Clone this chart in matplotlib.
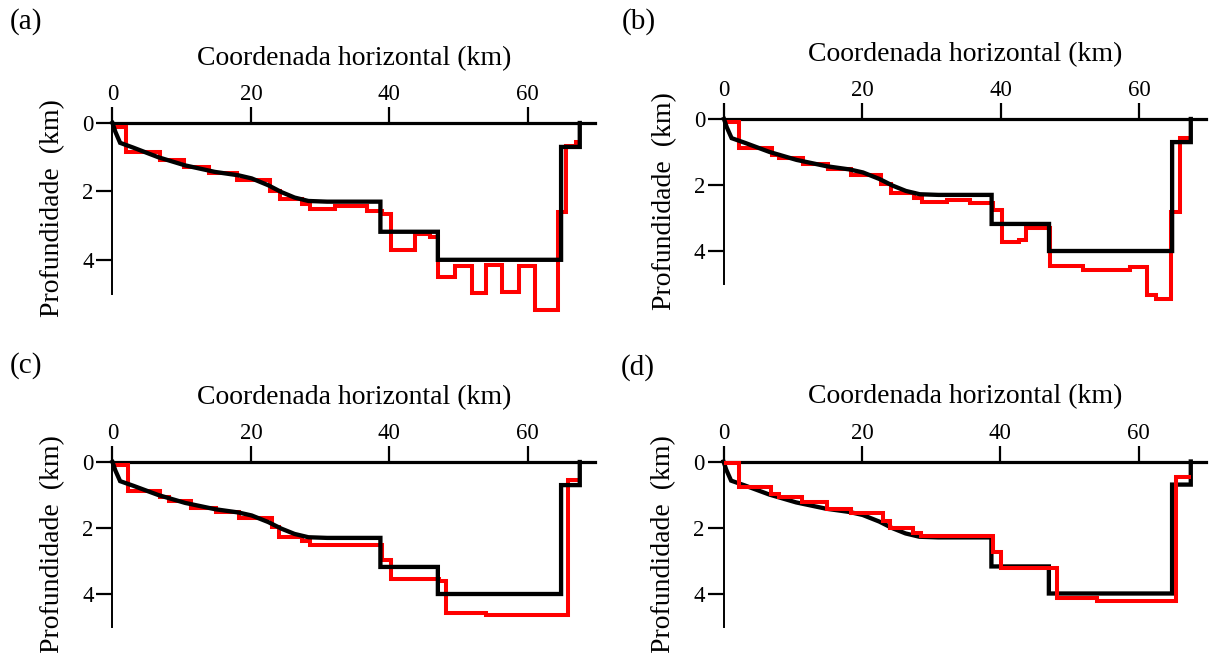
import matplotlib
matplotlib.use('Agg')
import matplotlib.pyplot as plt

plt.rcParams['font.family'] = ['Liberation Serif', 'DejaVu Serif']

# True model (black), common to all panels: horizontal coordinate (km) and depth (km)
true_x = [0, 0.4, 1.1, 3.0, 6.6, 10.5, 14.8, 18.2, 20.1, 22.5, 24.4, 26.3, 28.3, 31.0,
          38.7, 38.7, 47.0, 47.0, 64.8, 64.8, 67.5, 67.5]
true_z = [0, 0.25, 0.58, 0.72, 1.0, 1.24, 1.43, 1.53, 1.62, 1.82, 2.02, 2.18, 2.28, 2.3,
          2.3, 3.18, 3.18, 4.0, 4.0, 0.7, 0.7, 0]

# Estimated models (red): cell edges (km) and depths (km)
a_edges = [0, 2.0, 6.9, 10.3, 13.9, 18.0, 22.7, 24.2, 27.4, 28.6, 32.1, 36.7, 38.9, 40.2,
           43.7, 45.8, 47.0, 49.5, 51.9, 54.0, 56.3, 58.7, 61.1, 64.4, 65.5, 66.9, 67.7]
a_vals = [0.12, 0.84, 1.08, 1.28, 1.47, 1.68, 1.98, 2.22, 2.36, 2.5, 2.43, 2.56, 2.65,
          3.72, 3.26, 3.32, 4.5, 4.18, 4.98, 4.16, 4.95, 4.19, 5.47, 2.6, 0.68, 0.55]

b_edges = [0, 2.2, 6.9, 7.9, 11.4, 15.0, 18.3, 22.7, 24.1, 27.5, 28.7, 32.3, 35.6, 38.9,
           40.2, 42.6, 43.7, 47.1, 51.9, 58.7, 61.2, 62.4, 64.6, 66.0, 67.7]
b_vals = [0.1, 0.88, 1.08, 1.18, 1.35, 1.53, 1.69, 1.96, 2.24, 2.39, 2.53, 2.46, 2.56,
          2.76, 3.73, 3.66, 3.29, 4.45, 4.58, 4.5, 5.33, 5.46, 2.81, 0.59]

c_edges = [0, 2.3, 6.9, 8.1, 11.4, 15.0, 18.3, 23.0, 24.1, 27.4, 28.5, 38.9, 40.2, 47.2,
           48.2, 54.0, 65.8, 67.7]
c_vals = [0.08, 0.89, 1.06, 1.18, 1.38, 1.52, 1.70, 1.97, 2.27, 2.4, 2.5, 2.98, 3.54,
          3.6, 4.58, 4.65, 0.54]

d_edges = [0, 2.3, 6.9, 8.0, 11.4, 15.0, 18.4, 23.0, 24.0, 27.4, 28.6, 38.9, 40.1, 48.2,
           53.9, 65.4, 67.6]
d_vals = [0.06, 0.78, 0.97, 1.07, 1.24, 1.43, 1.55, 1.8, 2.03, 2.17, 2.26, 2.74, 3.22,
          4.15, 4.22, 0.47]

panel_labels = ['(a)', '(b)', '(c)', '(d)']
x_ticks = [0, 20, 40, 60]
y_ticks = [0, 2, 4]
xlabel = 'Coordenada horizontal (km)'
ylabel = 'Profundidade  (km)'

W, H = 1211, 653
fig = plt.figure(figsize=(W / 100, H / 100), dpi=100)

# axes boxes in pixels: left, right, top, bottom
boxes = [(112.5, 595, 123, 294), (724, 1206, 119, 284),
         (112.5, 595, 462, 627), (723.5, 1206, 461.5, 626.5)]
label_pos = [(10, 22), (622, 22), (10, 366), (621, 368)]
red_on_top = [False, False, False, True]
estimates = [(a_edges, a_vals), (b_edges, b_vals), (c_edges, c_vals), (d_edges, d_vals)]

for i, ((l, r, t, b), (edges, vals)) in enumerate(zip(boxes, estimates)):
    ax = fig.add_axes([l / W, 1 - b / H, (r - l) / W, (b - t) / H])
    ax.set_xlim(0, 69.7)
    ax.set_ylim(5, 0)
    zb, zr = (3, 4) if red_on_top[i] else (4, 3)
    ax.plot(true_x, true_z, color='black', lw=3.1, zorder=zb, clip_on=False,
            solid_joinstyle='miter')
    ax.stairs(vals, edges, baseline=None, color='#ff0000', lw=2.9, zorder=zr,
              clip_on=False)
    for s in ('right', 'bottom'):
        ax.spines[s].set_visible(False)
    ax.spines['top'].set_linewidth(2.3)
    ax.spines['left'].set_linewidth(1.4)
    ax.xaxis.tick_top()
    ax.xaxis.set_label_position('top')
    ax.set_xticks(x_ticks)
    ax.set_yticks(y_ticks)
    ax.tick_params(axis='both', direction='out', length=11.5, width=1.6, labelsize=16.5,
                   color='black', labelcolor='black')
    ax.tick_params(axis='x', pad=1.2)
    ax.tick_params(axis='y', pad=2)
    ax.set_xlabel(xlabel, fontsize=20, labelpad=14)
    ax.set_ylabel(ylabel, fontsize=20, labelpad=12)
    lx, ly = label_pos[i]
    fig.text(lx / W, 1 - ly / H, panel_labels[i], fontsize=21, ha='left', va='center')

fig.savefig('out.png', dpi=100)
